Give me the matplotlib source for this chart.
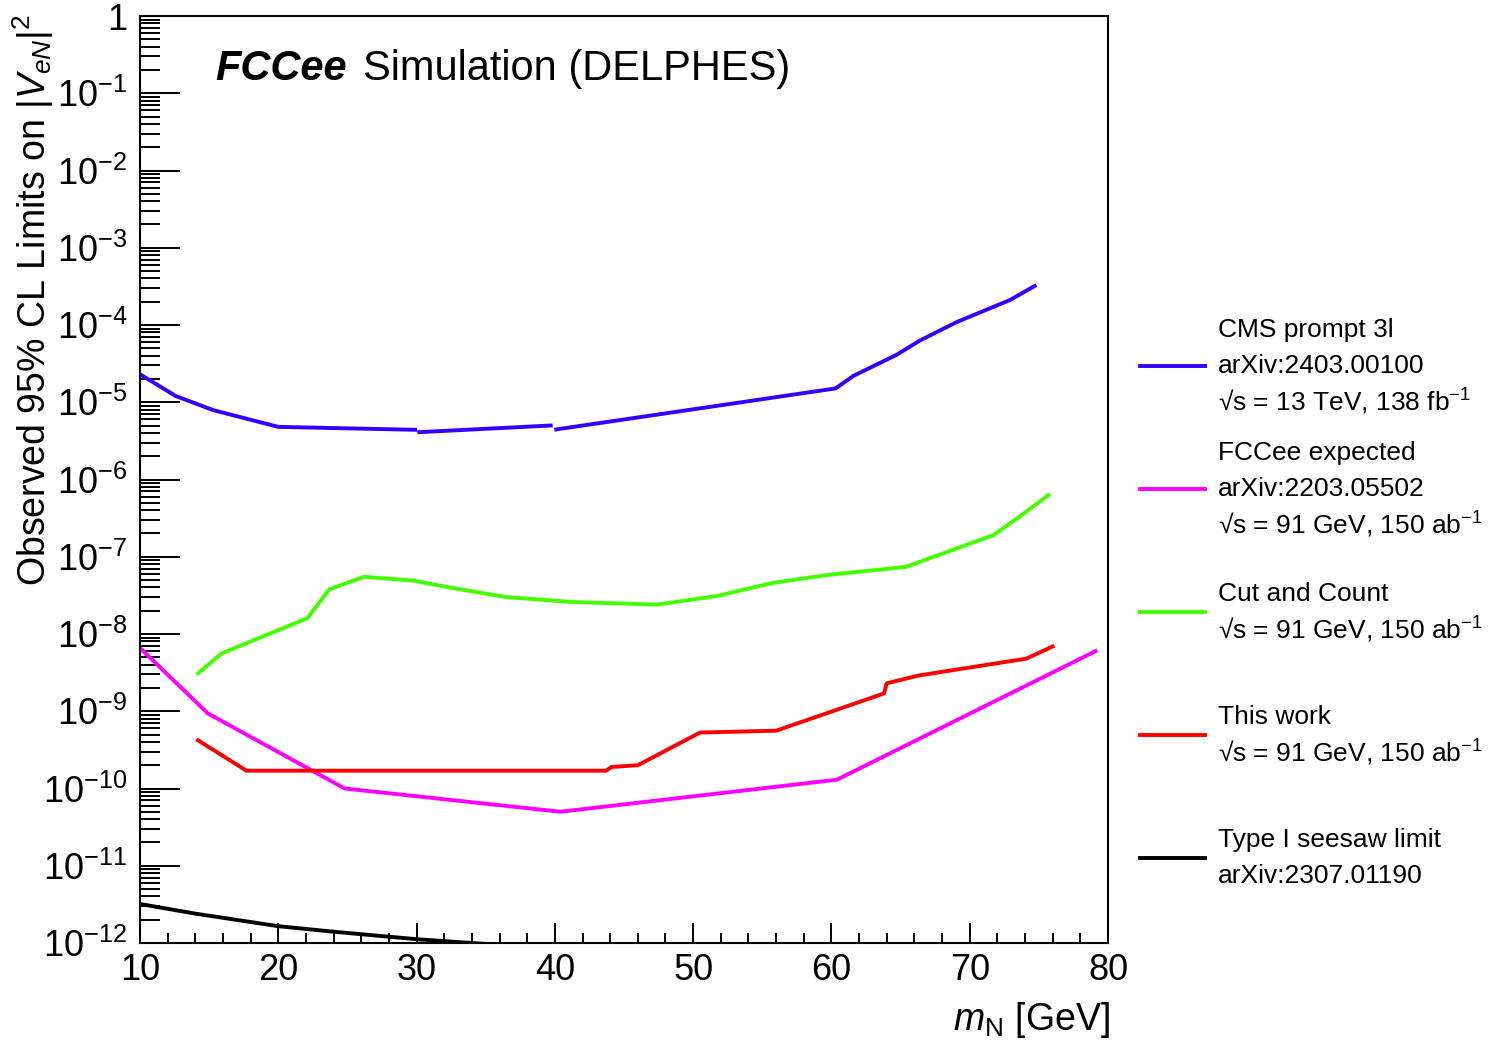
import matplotlib
matplotlib.use('Agg')
import matplotlib.pyplot as plt
from matplotlib.lines import Line2D
from matplotlib.ticker import (FixedLocator, FuncFormatter, LogLocator,
                               MultipleLocator, NullFormatter)
import numpy as np

nan = np.nan

# CMS prompt 3l (drawn as three pieces, gaps kept with nan)
cms_mass = [10, 12.6, 15.3, 20.0, 29.9, nan, 30.2, 39.7, nan,
            40.1, 60.3, 61.6, 64.7, 66.4, 69.1, 72.9, 74.7]
cms_limit = [2.3e-5, 1.2e-5, 7.9e-6, 4.8e-6, 4.4e-6, nan, 4.1e-6, 5.0e-6, nan,
             4.45e-6, 1.51e-5, 2.2e-5, 4.1e-5, 6.3e-5, 1.1e-4, 2.1e-4, 3.2e-4]

# FCCee expected
fcc_mass = [10, 14.9, 24.8, 40.4, 60.4, 79.1]
fcc_limit = [6.6e-9, 9.4e-10, 1.0e-10, 5.0e-11, 1.3e-10, 6.0e-9]

# Cut and Count
cc_mass = [14.2, 15.9, 22.1, 23.7, 26.2, 29.8, 32.4, 36.5, 41.2, 47.4,
           51.7, 55.8, 59.7, 65.4, 71.7, 73.6, 75.7]
cc_limit = [3.1e-9, 5.6e-9, 1.6e-8, 3.8e-8, 5.5e-8, 4.9e-8, 4.0e-8, 3.0e-8,
            2.6e-8, 2.4e-8, 3.1e-8, 4.6e-8, 5.8e-8, 7.4e-8, 1.9e-7, 3.3e-7,
            6.3e-7]

# This work
tw_mass = [14.2, 17.7, 43.7, 44.1, 46.0, 50.5, 56.0, 63.8, 64.0, 66.3,
           74.1, 76.0]
tw_limit = [4.2e-10, 1.7e-10, 1.7e-10, 1.9e-10, 2.0e-10, 5.3e-10, 5.6e-10,
            1.7e-9, 2.3e-9, 2.9e-9, 4.8e-9, 6.9e-9]

# Type I seesaw limit
seesaw_mass = [10, 14, 20, 24, 30, 34, 40]
seesaw_limit = [3.2e-12, 2.4e-12, 1.65e-12, 1.4e-12, 1.12e-12, 1.0e-12,
                0.85e-12]

legend_labels = [
    ['CMS prompt 3l', 'arXiv:2403.00100', '√s = 13 TeV, 138 fb$^{-1}$'],
    ['FCCee expected', 'arXiv:2203.05502', '√s = 91 GeV, 150 ab$^{-1}$'],
    ['Cut and Count', '√s = 91 GeV, 150 ab$^{-1}$'],
    ['This work', '√s = 91 GeV, 150 ab$^{-1}$'],
    ['Type I seesaw limit', 'arXiv:2307.01190'],
]
colors = ['#3300ff', '#ff00ff', '#44ff00', '#ff0000', '#000000']

plt.rcParams['font.family'] = ['Liberation Sans', 'DejaVu Sans']
plt.rcParams['mathtext.fontset'] = 'custom'
plt.rcParams['mathtext.rm'] = 'Liberation Sans'
plt.rcParams['mathtext.it'] = 'Liberation Sans:italic'
plt.rcParams['mathtext.bf'] = 'Liberation Sans:bold'

W, H = 1491, 1041
fig = plt.figure(figsize=(W / 100, H / 100), dpi=100)
ax = fig.add_axes([140 / W, 1 - 943 / H, 968 / W, 927 / H])

lw = 2.8
ax.plot(cms_mass, cms_limit, color=colors[0], lw=lw)
ax.plot(fcc_mass, fcc_limit, color=colors[1], lw=lw)
ax.plot(cc_mass, cc_limit, color=colors[2], lw=lw)
ax.plot(tw_mass, tw_limit, color=colors[3], lw=lw)
ax.plot(seesaw_mass, seesaw_limit, color=colors[4], lw=lw)

# axes, ROOT like
ax.set_yscale('log')
ax.set_xlim(10, 80)
ax.set_ylim(1e-12, 1)
ax.xaxis.set_major_locator(MultipleLocator(10))
ax.xaxis.set_minor_locator(MultipleLocator(2))
ax.yaxis.set_major_locator(FixedLocator([10.0 ** e for e in range(-12, 1)]))
ax.yaxis.set_minor_locator(LogLocator(base=10, subs=np.arange(2, 10),
                                      numticks=100))
ax.yaxis.set_minor_formatter(NullFormatter())


def ylab(v, pos):
    e = int(round(np.log10(v)))
    if e == 0:
        return '1'
    return r'$10^{%d}$' % e


ax.yaxis.set_major_formatter(FuncFormatter(ylab))
ax.tick_params(axis='both', which='both', direction='in', width=1.4,
               top=False, right=False, labelsize=26)
ax.tick_params(axis='y', which='major', length=28.8, pad=9)
ax.tick_params(axis='y', which='minor', length=14.4)
ax.tick_params(axis='x', which='major', length=14.4, pad=7)
ax.tick_params(axis='x', which='minor', length=7.2)
for sp in ax.spines.values():
    sp.set_linewidth(1.5)

fig.text(33 / W, 1 - 14 / H, r'Observed 95% CL Limits on |$V_{eN}$|$^{2}$',
         rotation=90, ha='center', va='top', fontsize=27)
fig.text(1110 / W, 1 - 1020 / H, r'$m_{\mathrm{N}}$ [GeV]',
         ha='right', va='center', fontsize=27)

fig.text(215 / W, 1 - 80 / H, 'FCCee', fontsize=30, fontweight='bold',
         fontstyle='italic', va='baseline')
fig.text(363 / W, 1 - 80 / H, 'Simulation (DELPHES)', fontsize=30,
         va='baseline')

# legend next to the frame
for i, lines in enumerate(legend_labels):
    yc = 366 + 123 * i
    fig.add_artist(Line2D([1140 / W, 1205 / W], [1 - yc / H, 1 - yc / H],
                          color=colors[i], lw=lw))
    n = len(lines)
    for j, txt in enumerate(lines):
        yt = yc + (j - (n - 1) / 2) * 36
        fig.text(1218 / W, 1 - yt / H, txt, fontsize=19, va='center')

fig.savefig('out.png', dpi=100)
